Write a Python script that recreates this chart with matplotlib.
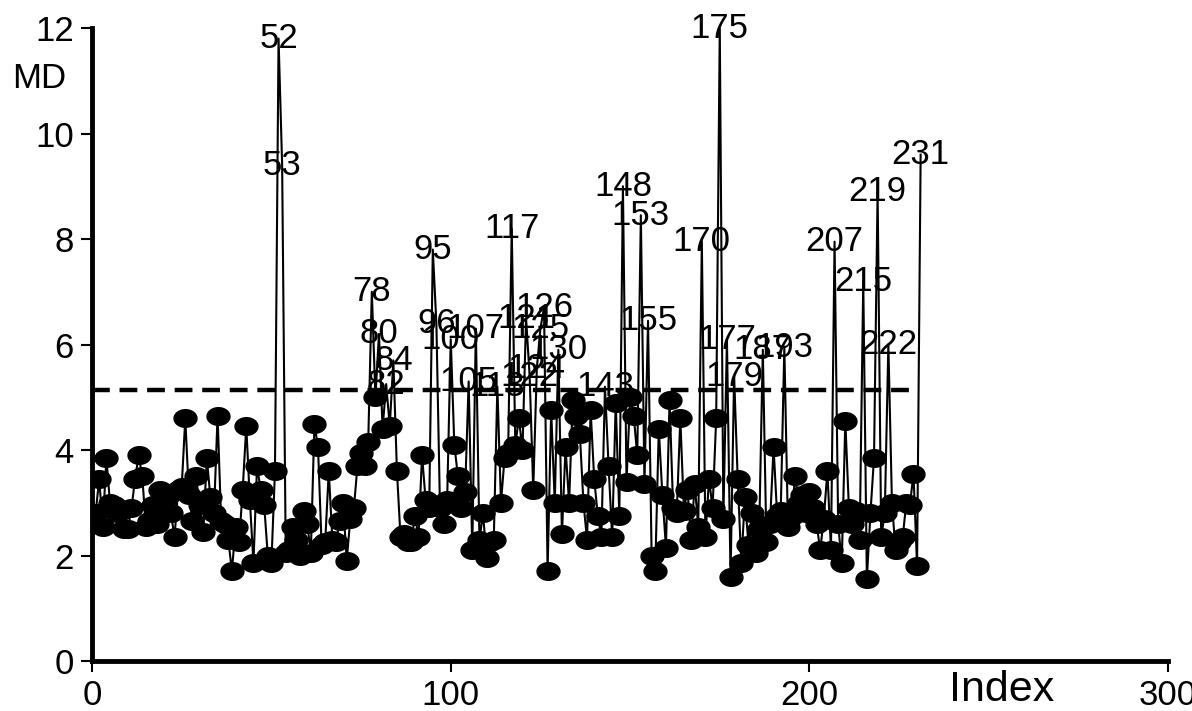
import numpy as np
import matplotlib
matplotlib.use("Agg")
import matplotlib.pyplot as plt
from matplotlib.path import Path

plt.rcParams['font.family'] = ['Liberation Sans', 'DejaVu Sans']

md = [
    2.8, 3.45, 2.55, 3.85, 3.0, 2.95, 2.8, 2.85, 2.5, 2.5,
    2.9, 3.45, 3.9, 3.5, 2.55, 2.65, 2.95, 2.6, 3.25, 2.9,
    3.1, 2.8, 2.35, 3.25, 3.3, 4.6, 3.15, 2.65, 3.5, 2.95,
    2.45, 3.85, 3.1, 2.8, 4.65, 2.65, 2.6, 2.3, 1.7, 2.55,
    2.25, 3.25, 4.45, 3.05, 1.85, 3.7, 3.25, 2.95, 2.0, 1.85,
    3.6, 11.8, 9.4, 2.05, 2.1, 2.55, 2.3, 2.0, 2.85, 2.6,
    2.05, 4.5, 4.05, 2.2, 2.25, 3.6, 2.3, 2.25, 2.65, 3.0,
    1.9, 2.7, 2.9, 3.7, 3.95, 3.7, 4.15, 7.0, 5.0, 6.2,
    4.4, 5.25, 4.45, 5.7, 3.6, 2.35, 2.4, 2.25, 2.25, 2.75,
    2.35, 3.9, 3.05, 2.9, 7.8, 6.4, 2.9, 2.6, 3.05, 6.1,
    4.1, 3.5, 2.9, 3.2, 5.3, 2.1, 6.3, 2.3, 2.8, 1.95,
    2.25, 2.3, 5.2, 3.0, 3.85, 3.95, 8.2, 4.1, 4.6, 4.0,
    6.5, 5.4, 3.25, 5.55, 6.3, 6.7, 1.7, 4.75, 3.0, 5.9,
    2.4, 4.05, 3.0, 4.95, 4.65, 4.3, 3.0, 2.3, 4.75, 3.45,
    2.75, 2.35, 5.2, 3.7, 2.35, 4.9, 2.75, 9.0, 3.4, 5.0,
    4.65, 3.9, 8.45, 3.35, 6.45, 2.0, 1.7, 4.4, 3.15, 2.15,
    4.95, 2.9, 2.8, 4.6, 2.85, 3.25, 2.3, 3.35, 2.55, 7.95,
    2.35, 3.45, 2.9, 4.6, 12.0, 2.7, 6.1, 1.6, 5.4, 3.45,
    1.85, 3.1, 2.2, 2.8, 2.05, 2.5, 5.9, 2.25, 2.6, 4.05,
    2.75, 2.85, 5.95, 2.55, 2.75, 3.5, 3.0, 3.15, 2.8, 3.2,
    2.9, 2.6, 2.1, 2.7, 3.6, 2.1, 7.95, 2.6, 1.85, 4.55,
    2.9, 2.6, 2.85, 2.3, 7.2, 1.55, 2.8, 3.85, 8.9, 2.35,
    2.8, 6.0, 3.0, 2.1, 2.25, 2.35, 3.0, 2.95, 3.55, 1.8,
    9.6,
]
cutoff = 5.14

md = np.array(md)
idx = np.arange(1, len(md) + 1)
outlier = md > cutoff

# ellipse marker (wider than tall)
t = np.linspace(0, 2 * np.pi, 60)
ellipse = Path(np.column_stack([1.3 * np.cos(t), np.sin(t)]), closed=True)

fig = plt.figure(figsize=(11.92, 7.11), dpi=100)
ax = fig.add_axes([0.0772, 0.0703, 0.9028, 0.8903])

ax.plot(idx, md, color="black", lw=1.5, zorder=2)
ax.plot(idx[~outlier], md[~outlier], ls="none", marker=ellipse,
        ms=16.5, color="black", zorder=3)
for i, v in zip(idx[outlier], md[outlier]):
    ax.text(i, v, str(i), ha="center", va="center", fontsize=25, zorder=4)

ax.plot([0, len(md) - 1], [cutoff, cutoff], color="black", lw=3.2,
        ls=(0, (4, 2.2)), zorder=1)

ax.set_xlim(0, 300)
ax.set_ylim(0, 12)
ax.set_xticks([0, 100, 200, 300])
ax.set_yticks(range(0, 13, 2))
for s in ["top", "right"]:
    ax.spines[s].set_visible(False)
for s in ["left", "bottom"]:
    ax.spines[s].set_linewidth(3.5)
ax.tick_params(direction="out", length=8, width=1.5, labelsize=25, pad=5)

fig.text(0.033, 0.89, "MD", fontsize=25, ha="center", va="center")
fig.text(0.84, 0.03, "Index", fontsize=31, ha="center", va="center")

fig.savefig("out.png", dpi=100)
